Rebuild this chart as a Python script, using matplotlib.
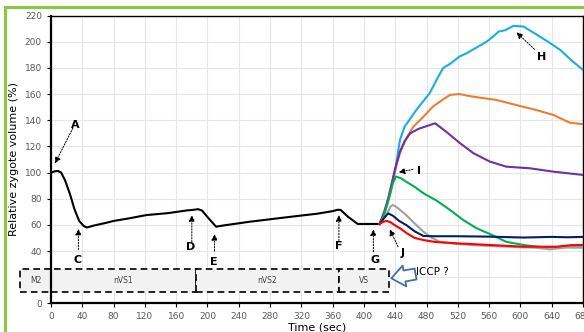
import matplotlib
matplotlib.use("Agg")
import matplotlib.pyplot as plt
from matplotlib.patches import Rectangle

# ---------------- data ----------------
black_t = [0, 5, 9, 13, 18, 24, 30, 36, 42, 46, 55, 70, 80, 100, 122, 150, 173, 182, 188, 193, 200, 211,
           220, 254, 290, 318, 340, 360, 366, 370, 380, 392, 405, 420]
black_v = [100, 101, 101.2, 100, 94, 84, 72, 63, 59, 58, 59.5, 61.5, 63, 65, 67.5, 69, 71, 71.5, 72, 71, 66, 58.6,
           59.5, 62.4, 65, 67, 68.5, 70.5, 71.5, 71.5, 66, 60.7, 60.7, 60.7]

cyan_t = [420, 426, 431, 436, 440, 446, 452, 459, 467, 475, 484, 492, 501, 512, 522, 531, 545, 557, 565, 572,
          581, 591, 604, 614, 625, 638, 651, 665, 680]
cyan_v = [60.7, 69, 79, 90, 102, 124.9, 135.1, 141, 147.9, 154, 160.7, 170, 179.8, 184, 188.7, 191.2, 196, 200.2,
          204, 207.8, 209, 212.2, 211.7, 208, 204, 199, 193.8, 186, 178.5]

orange_t = [420, 426, 431, 436, 440, 446, 454, 463, 475, 488, 500, 510, 522, 535, 548, 569, 599, 620, 642, 663, 680]
orange_v = [60.7, 70, 80, 92, 102, 114.8, 126, 135.1, 142, 150.4, 155.5, 159.4, 160.1, 158.5, 157.3, 155.6, 151,
            147.9, 144.1, 138.2, 137]

purple_t = [420, 426, 431, 436, 440, 446, 452, 459, 470, 480, 491, 505, 523, 540, 561, 582, 612, 642, 680]
purple_v = [60.7, 70, 80, 93, 103.3, 116, 124, 130, 133.5, 135.5, 137.7, 131.3, 122.4, 114.8, 108.4, 104.5, 103.3,
            100.7, 98.2]

green_t = [420, 426, 432, 437, 441, 448, 454, 465, 476, 493, 510, 527, 544, 561, 582, 604, 629, 650, 680]
green_v = [60.7, 68, 80, 92, 96.9, 95.5, 93, 89, 84.2, 78.5, 71.4, 63.7, 57.4, 53, 47, 44.6, 42.8, 43, 42.8]

gray_t = [420, 428, 434, 437, 442, 454, 465, 476, 487, 497, 518, 561, 604, 620, 638, 660, 680]
gray_v = [60.7, 67, 74, 75.2, 73.5, 67.5, 61, 54.8, 50, 47, 45.4, 43.8, 42.8, 42.5, 41.3, 42.8, 42.8]

navy_t = [420, 426, 431, 437, 445, 454, 465, 476, 490, 518, 560, 604, 640, 660, 680]
navy_v = [60.7, 65.5, 68.8, 67, 63, 59.9, 55, 51.5, 51.3, 51.3, 51, 50.3, 50.8, 50.5, 50.8]

red_t = [420, 425, 429, 434, 440, 446, 455, 465, 476, 490, 518, 561, 604, 646, 665, 680]
red_v = [60.7, 62.5, 63, 62, 59.5, 57.4, 53.5, 50, 48.4, 47, 45.9, 44.6, 43.3, 43.3, 44.5, 44.6]

phase_names = ["M2", "nVS1", "nVS2", "VS"]
phase_edges = [-39, 0, 185, 368, 432]

x_ticks = list(range(0, 681, 40))
y_ticks = list(range(0, 221, 20))
y_tick_labels = ["" if v == 20 else str(v) for v in y_ticks]  # "20" is hidden behind the phase boxes

# ---------------- figure ----------------
fig = plt.figure(figsize=(5.84, 3.32), dpi=100)
ax = fig.add_axes([51 / 584, (332 - 303.3) / 332, 532 / 584, 287.6 / 332])

ax.set_xlim(0, 680)
ax.set_ylim(0, 220)
ax.set_xticks(x_ticks)
ax.set_yticks(y_ticks)
ax.set_yticklabels(y_tick_labels)
ax.grid(True, color="#e6e6e6", lw=0.8)
ax.set_axisbelow(True)

for s in ["left", "bottom"]:
    ax.spines[s].set_linewidth(1.6)
for s in ["top", "right"]:
    ax.spines[s].set_linewidth(1.0)
ax.tick_params(axis="both", labelsize=6.5, labelcolor="#595959", length=3, width=0.8, color="black")

lw = 1.5
ax.plot(black_t, black_v, color="black", lw=lw, zorder=3)
ax.plot(cyan_t, cyan_v, color="#1AADE4", lw=lw, zorder=3)
ax.plot(orange_t, orange_v, color="#ED7D31", lw=lw, zorder=3)
ax.plot(purple_t, purple_v, color="#7030A0", lw=lw, zorder=3)
ax.plot(green_t, green_v, color="#00B050", lw=lw, zorder=3)
ax.plot(gray_t, gray_v, color="#A0A0A0", lw=lw, zorder=3)
ax.plot(navy_t, navy_v, color="#002060", lw=lw, zorder=3)
ax.plot(red_t, red_v, color="#FF0000", lw=lw, zorder=3)

# phase boxes
for i, name in enumerate(phase_names):
    x0, x1 = phase_edges[i], phase_edges[i + 1]
    r = Rectangle((x0, 9), x1 - x0, 17, facecolor="#f2f2f2", edgecolor="black", lw=1.2,
                  ls=(0, (4, 2.5)), clip_on=False, zorder=2)
    ax.add_patch(r)
    ax.text((x0 + x1) / 2, 17.5, name, ha="center", va="center", fontsize=5.5, color="#404040", zorder=4)

# ICCP arrow
ax.annotate("", xy=(435, 19.1), xytext=(466, 22.4),
            arrowprops=dict(arrowstyle="simple,head_length=0.6,head_width=0.95,tail_width=0.5",
                            fc="white", ec="#41719C", lw=1.3, mutation_scale=16,
                            shrinkA=0, shrinkB=0), annotation_clip=False)
ax.text(467, 24.2, "ICCP ?", fontsize=7.5, color="black", ha="left", va="center")

# letter annotations
ann = [
    ("A", (5, 107), (28, 134), (31, 136.4)),
    ("C", (35, 57), (35, 41), (33.6, 33)),
    ("D", (180, 67.5), (180, 47), (178.8, 43.3)),
    ("E", (209, 53), (209, 40), (208, 31.8)),
    ("F", (368, 67.5), (368, 48), (367.8, 43.8)),
    ("G", (412, 56.6), (412, 39.5), (413.8, 33)),
    ("H", (595, 207.3), (618, 194.3), (627.5, 188.7)),
    ("I", (444.4, 100.2), (462.7, 102.5), (470, 101.5)),
    ("J", (433, 56.6), (443.6, 43.3), (449, 38.2)),
]
for lab, tip, tail, pos in ann:
    ax.annotate("", xy=tip, xytext=tail,
                arrowprops=dict(arrowstyle="-|>", color="black", lw=0.7, ls=(0, (1.5, 1.5)),
                                mutation_scale=9, shrinkA=0, shrinkB=0), zorder=5)
    ax.text(pos[0], pos[1], lab, fontsize=8, fontweight="bold", ha="center", va="center", zorder=5)

ax.set_xlabel("Time (sec)", fontsize=8, labelpad=1)
ax.set_ylabel("Relative zygote volume (%)", fontsize=8, labelpad=4)

# green frame
fig.add_artist(Rectangle((5 / 584, -0.2), 1.3, 1 - 7 / 332 + 0.2, transform=fig.transFigure,
                         fill=False, edgecolor="#8DC63F", lw=2.2))

fig.savefig("out.png", dpi=100)
